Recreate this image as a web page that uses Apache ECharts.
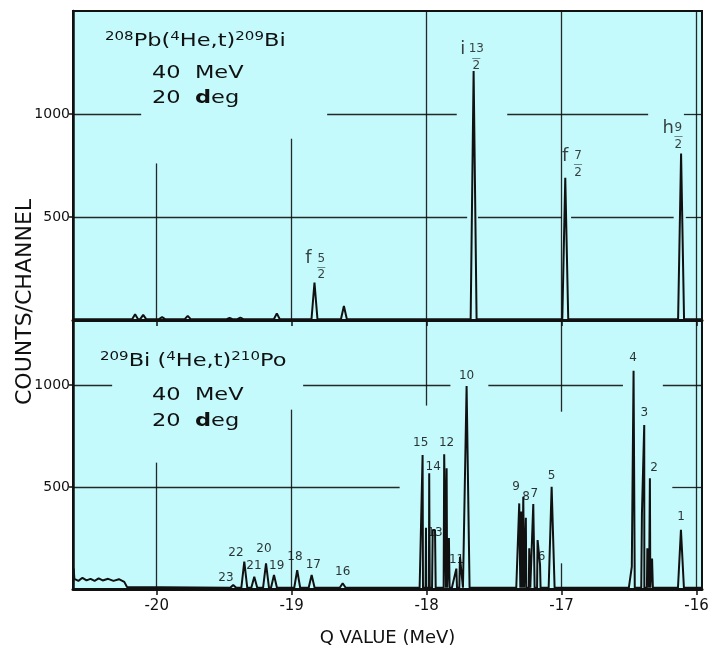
<!DOCTYPE html>
<html>
<head>
<meta charset="utf-8">
<script src="https://cdn.jsdelivr.net/npm/echarts@6/dist/echarts.min.js"></script>
<style>
  html, body { margin: 0; padding: 0; background: #fff; }
  #main { width: 718px; height: 656px; }
</style>
</head>
<body>
<div id="main"></div>
<script>
// Q range of the scan (MeV)
var Q_MIN = -20.62
var Q_MAX = -15.96
var qTicks = [-20, -19, -18, -17, -16]
var countTicks = [500, 1000]

// top panel: 208Pb(4He,t)209Bi, peaks
var topPeakQ = [-20.16, -20.10, -19.96, -19.77, -19.46, -19.38, -19.11, -18.831, -18.613, -17.652, -16.973, -16.115]
var topPeakCounts = [28, 25, 14, 20, 10, 12, 32, 182, 68, 1209, 690, 808]
var topLabelLetter = ['f', 'i', 'f', 'h']
var topLabelNum = ['5', '13', '7', '9']
var topLabelQ = [-18.814, -17.665, -16.912, -16.168]
var topLabelCounts = [261, 1278, 760, 895]

// bottom panel: 209Bi(4He,t)210Po
var botPeakQ = [-19.433, -19.351, -19.277, -19.190, -19.131, -18.959, -18.852, -18.622,
  -18.030, -18.005, -17.981, -17.955, -17.938, -17.870, -17.852, -17.835, -17.780, -17.753, -17.704,
  -17.314, -17.300, -17.284, -17.265, -17.240, -17.210, -17.178, -17.160, -17.074,
  -16.480, -16.467, -16.405, -16.388, -16.365, -16.346, -16.330, -16.116]
var botPeakCounts = [20, 134, 60, 126, 69, 93, 69, 28,
  657, 300, 568, 290, 290, 661, 592, 250, 100, 158, 996,
  420, 380, 453, 350, 200, 417, 240, 120, 502,
  110, 1071, 370, 805, 200, 543, 150, 290]
var botNoiseQ = [-20.615, -20.61, -20.58, -20.55, -20.52, -20.49, -20.46, -20.43, -20.40, -20.36, -20.32, -20.28, -20.24, -20.22]
var botNoiseCounts = [100, 50, 40, 55, 42, 50, 40, 52, 42, 50, 40, 48, 35, 10]
var botLabelText = ['23', '22', '21', '20', '19', '18', '17', '16', '15', '14', '13', '12', '11', '10', '9', '8', '7', '6', '5', '4', '3', '2', '1']
var botLabelQ = [-19.487, -19.413, -19.279, -19.205, -19.111, -18.976, -18.84, -18.622, -18.044, -17.951, -17.939, -17.852, -17.778, -17.704,
  -17.338, -17.264, -17.203, -17.148, -17.074, -16.470, -16.388, -16.316, -16.116]
var botLabelCounts = [57, 178, 113, 195, 113, 158, 118, 85, 715, 600, 273, 715, 142, 1045,
  502, 453, 466, 158, 554, 1132, 865, 592, 355]

// crosshair grid of the original plot: [count, fromQ, toQ] and [Q, fromCount, toCount]
var topHGrid = [[1000, -20.62, -20.115], [1000, -18.737, -17.777], [1000, -17.403, -16.359], [1000, -16.094, -15.96],
  [500, -20.62, -17.70], [500, -17.62, -17.00], [500, -16.93, -16.17], [500, -16.08, -15.96]]
var topVGrid = [[-20, 0, 760], [-19, 0, 880], [-18, 0, 1500], [-17, 0, 1500], [-16, 0, 1500]]
var botHGrid = [[1000, -20.62, -20.33], [1000, -18.915, -17.824], [1000, -17.543, -16.546], [1000, -16.25, -15.96],
  [500, -20.62, -18.2], [500, -16.18, -15.96]]
var botVGrid = [[-20, 0, 620], [-19, 0, 880], [-18, 900, 1320], [-17, 870, 1320], [-17, 0, 126], [-16, 0, 1320]]

var FONT = 'DejaVu Sans'
var INK = '#111'
var BG = '#c5fafc'
var HALF_WIDTH = 0.022 // peak half width at the base, MeV

// spectrum polyline: baseline + one spike per peak
function buildTrace(peakQ, peakCounts, noiseQ, noiseCounts, base) {
  var pts = [[Q_MIN, base], [Q_MAX, base]]
  for (var i = 0; i < peakQ.length; i++) {
    pts.push([peakQ[i] - HALF_WIDTH, base], [peakQ[i], peakCounts[i]], [peakQ[i] + HALF_WIDTH, base])
  }
  for (var j = 0; j < noiseQ.length; j++) {
    pts.push([noiseQ[j], noiseCounts[j]])
  }
  pts.sort((a, b) => a[0] - b[0])
  return pts
}

function gridSegments(hGrid, vGrid) {
  var segs = []
  hGrid.forEach(g => segs.push([{ coord: [g[1], g[0]] }, { coord: [g[2], g[0]] }]))
  vGrid.forEach(g => segs.push([{ coord: [g[0], g[1]] }, { coord: [g[0], g[2]] }]))
  return segs
}

var chart = echarts.init(document.getElementById('main'))

function xAxisBase(idx) {
  return {
    type: 'value', gridIndex: idx, min: Q_MIN, max: Q_MAX,
    axisLine: { show: true, onZero: false, lineStyle: { color: INK, width: 3 } },
    axisTick: { show: true, inside: false, length: 6, customValues: qTicks, lineStyle: { color: INK, width: 1.5 } },
    splitLine: { show: false }
  }
}

function yAxisBase(idx, max) {
  return {
    type: 'value', gridIndex: idx, min: 0, max: max, interval: 500,
    axisLine: { show: true, lineStyle: { color: INK, width: 2.5 } },
    axisTick: { show: true, inside: false, length: 4, customValues: countTicks, lineStyle: { color: INK, width: 1.5 } },
    axisLabel: { customValues: countTicks, formatter: v => String(v), fontFamily: FONT, fontSize: 14, color: INK, margin: 3 },
    splitLine: { show: false }
  }
}

var xTop = xAxisBase(0)
xTop.axisLabel = { show: false }
var xBot = xAxisBase(1)
xBot.axisLabel = { customValues: qTicks, fontFamily: FONT, fontSize: 15, color: INK, margin: 10 }
xBot.name = 'Q VALUE (MeV)'
xBot.nameLocation = 'middle'
xBot.nameGap = 40
xBot.nameTextStyle = { fontFamily: FONT, fontSize: 18, color: INK }

var fracRich = {
  l: { fontFamily: FONT, fontSize: 18, color: INK, width: 9, align: 'left', lineHeight: 14 },
  n: { fontFamily: FONT, fontSize: 12, color: INK, width: 14, align: 'center', lineHeight: 11 },
  s: { fontSize: 10, width: 9, lineHeight: 4 },
  b: { fontFamily: FONT, fontSize: 9, color: INK, width: 14, align: 'center', lineHeight: 4 }
}

var titleRich = {
  s: { fontFamily: FONT, fontSize: 12, fill: INK, verticalAlign: 'top', lineHeight: 20 },
  m: { fontFamily: FONT, fontSize: 18, fill: INK, lineHeight: 20 }
}
var degRich = {
  m: { fontFamily: FONT, fontSize: 18, fill: INK },
  b: { fontFamily: FONT, fontSize: 18, fill: INK, fontWeight: 'bold' }
}

var markStyle = {
  silent: true, symbol: ['none', 'none'], animation: false,
  label: { show: false },
  lineStyle: { type: 'solid', color: INK, width: 1.3, opacity: 0.9 }
}

var option = {
  animation: false,
  backgroundColor: '#fff',
  grid: [
    { left: 73, right: 16, top: 11, height: 309, show: true, backgroundColor: BG, borderColor: INK, borderWidth: 2 },
    { left: 73, right: 16, top: 320, height: 269, show: true, backgroundColor: BG, borderColor: INK, borderWidth: 2 }
  ],
  xAxis: [xTop, xBot],
  yAxis: [yAxisBase(0, 1500), yAxisBase(1, 1320)],
  graphic: [
    {
      type: 'text', x: 25, y: 302, rotation: Math.PI / 2,
      style: { text: 'COUNTS/CHANNEL', fontFamily: FONT, fontSize: 22, fill: INK, align: 'center', verticalAlign: 'middle' }
    },
    { type: 'text', x: 105, y: 31, scaleX: 1.25, style: { text: '{s|208}{m|Pb(}{s|4}{m|He,t)}{s|209}{m|Bi}', rich: titleRich } },
    { type: 'text', x: 152, y: 64, scaleX: 1.25, style: { text: '40  MeV', fontFamily: FONT, fontSize: 18, fill: INK } },
    { type: 'text', x: 152, y: 89, scaleX: 1.25, style: { text: '{m|20  }{b|d}{m|eg}', rich: degRich } },
    { type: 'text', x: 100, y: 351, scaleX: 1.25, style: { text: '{s|209}{m|Bi (}{s|4}{m|He,t)}{s|210}{m|Po}', rich: titleRich } },
    { type: 'text', x: 152, y: 386, scaleX: 1.25, style: { text: '40  MeV', fontFamily: FONT, fontSize: 18, fill: INK } },
    { type: 'text', x: 152, y: 412, scaleX: 1.25, style: { text: '{m|20  }{b|d}{m|eg}', rich: degRich } }
  ],
  series: [
    {
      type: 'line', xAxisIndex: 0, yAxisIndex: 0, symbol: 'none',
      data: buildTrace(topPeakQ, topPeakCounts, [], [], 4),
      lineStyle: { color: INK, width: 2 },
      markLine: Object.assign({ data: gridSegments(topHGrid, topVGrid) }, markStyle)
    },
    {
      type: 'line', xAxisIndex: 1, yAxisIndex: 1, symbol: 'none',
      data: buildTrace(botPeakQ, botPeakCounts, botNoiseQ, botNoiseCounts, 6),
      lineStyle: { color: INK, width: 2 },
      markLine: Object.assign({ data: gridSegments(botHGrid, botVGrid) }, markStyle)
    },
    {
      type: 'scatter', xAxisIndex: 0, yAxisIndex: 0, symbolSize: 0, silent: true,
      data: topLabelQ.map((q, i) => [q, topLabelCounts[i]]),
      label: {
        show: true, position: 'inside',
        formatter: p => '{l|' + topLabelLetter[p.dataIndex] + '}{n|' + topLabelNum[p.dataIndex] + '}\n{s| }{b|—}\n{s| }{n|2}',
        rich: fracRich
      }
    },
    {
      type: 'scatter', xAxisIndex: 1, yAxisIndex: 1, symbolSize: 0, silent: true,
      data: botLabelQ.map((q, i) => [q, botLabelCounts[i]]),
      label: {
        show: true, position: 'inside',
        formatter: p => botLabelText[p.dataIndex],
        fontFamily: FONT, fontSize: 12, color: '#000'
      }
    }
  ]
}

chart.setOption(option)
</script>
</body>
</html>
